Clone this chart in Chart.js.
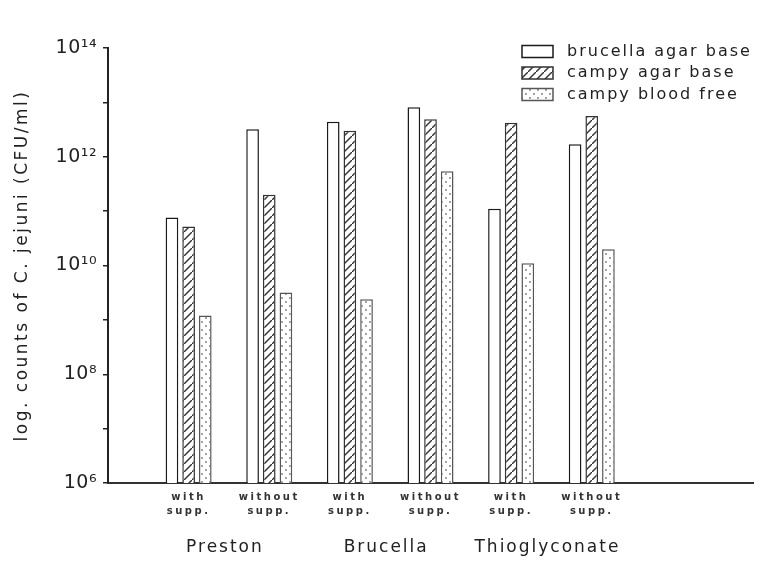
<!DOCTYPE html>
<html>
<head>
<meta charset="utf-8">
<script src="https://cdn.jsdelivr.net/npm/chart.js@4.4.1/dist/chart.umd.min.js"></script>
<style>
  html, body { margin: 0; padding: 0; background: #fff; }
  #wrap { width: 760px; height: 563px; }
</style>
</head>
<body>
<div id="wrap"><canvas id="chart"></canvas></div>
<script>
// Categorias: huecos vacios a los lados como en la figura original
const CATEGORIES = [
  "",
  ["with", "supp."],
  ["without", "supp."],
  ["with", "supp."],
  ["without", "supp."],
  ["with", "supp."],
  ["without", "supp."],
  "",
  "",
];
const GROUPS = ["Preston", "Brucella", "Thioglyconate"];
const SERIES = ["brucella agar base", "campy agar base", "campy blood free"];

// CFU/ml (Preston c/s, Brucella c/s, Thioglyconate c/s)
const BRUCELLA_AGAR = [7.6e10, 3.2e12, 4.4e12, 8.1e12, 1.1e11, 1.7e12];
const CAMPY_AGAR = [5.2e10, 2.0e11, 3.0e12, 4.9e12, 4.2e12, 5.6e12];
const CAMPY_BLOOD_FREE = [1.2e9, 3.2e9, 2.4e9, 5.4e11, 1.1e10, 2.0e10];

const Y_TICKS = [1e6, 1e7, 1e8, 1e9, 1e10, 1e11, 1e12, 1e13, 1e14];
const Y_LABELS = ["10⁶", "", "10⁸", "", "10¹⁰", "", "10¹²", "", "10¹⁴"];

const FONT = "'DejaVu Sans', sans-serif";
const INK = "#222";

function pad(values) {
  return [null, ...values, null, null];
}

// Rellenos tipo trama
function hatchPattern() {
  const c = document.createElement("canvas");
  c.width = 8;
  c.height = 8;
  const g = c.getContext("2d");
  g.fillStyle = "#fff";
  g.fillRect(0, 0, 8, 8);
  g.strokeStyle = "#333";
  g.lineWidth = 1.4;
  g.beginPath();
  g.moveTo(-1, 9);
  g.lineTo(9, -1);
  g.stroke();
  return g.createPattern(c, "repeat");
}

function dotPattern() {
  const c = document.createElement("canvas");
  c.width = 8;
  c.height = 8;
  const g = c.getContext("2d");
  g.fillStyle = "#fff";
  g.fillRect(0, 0, 8, 8);
  g.fillStyle = "#777";
  g.beginPath();
  g.arc(2, 2, 0.9, 0, Math.PI * 2);
  g.arc(6, 6, 0.9, 0, Math.PI * 2);
  g.fill();
  return g.createPattern(c, "repeat");
}

const FILLS = ["#fff", hatchPattern(), dotPattern()];
const BORDERS = ["#1a1a1a", "#333", "#555"];

const textPlugin = {
  id: "textExtras",
  beforeDraw(chart) {
    // titulo del eje y etiquetas de x bien espaciadas
    chart.ctx.letterSpacing = "2.5px";
  },
  afterDatasetsDraw(chart) {
    // las etiquetas del eje y (z: 1) van mas juntas
    chart.ctx.letterSpacing = "0.5px";
  },
  afterDraw(chart) {
    const ctx = chart.ctx;
    const x = chart.scales.x;

    // nombres de los grupos bajo cada par
    ctx.save();
    ctx.letterSpacing = "2px";
    ctx.fillStyle = INK;
    ctx.font = "17px " + FONT;
    ctx.textAlign = "center";
    ctx.textBaseline = "middle";
    GROUPS.forEach((g, i) => {
      const px = (x.getPixelForValue(1 + i * 2) + x.getPixelForValue(2 + i * 2)) / 2;
      ctx.fillText(g, px - 4, 548);
    });

    // leyenda arriba a la derecha
    ctx.font = "16px " + FONT;
    ctx.textAlign = "left";
    chart.data.datasets.forEach((ds, i) => {
      const cy = 51.5 + i * 21.5;
      ctx.fillStyle = ds.backgroundColor;
      ctx.fillRect(522, cy - 6, 31, 12);
      ctx.strokeStyle = ds.borderColor;
      ctx.lineWidth = 1.5;
      ctx.strokeRect(522, cy - 6, 31, 12);
      ctx.fillStyle = INK;
      ctx.fillText(ds.label, 567, cy);
    });
    ctx.restore();
  },
};

new Chart(document.getElementById("chart"), {
  type: "bar",
  data: {
    labels: CATEGORIES,
    datasets: [BRUCELLA_AGAR, CAMPY_AGAR, CAMPY_BLOOD_FREE].map((vals, i) => ({
      label: SERIES[i],
      data: pad(vals),
      backgroundColor: FILLS[i],
      borderColor: BORDERS[i],
      borderWidth: 1.5,
      categoryPercentage: 0.62,
      barPercentage: 0.76,
    })),
  },
  options: {
    responsive: true,
    maintainAspectRatio: false,
    animation: false,
    layout: {
      padding: { top: 48, right: 7, bottom: 0, left: 12 },
    },
    plugins: {
      legend: { display: false },
      tooltip: { enabled: false },
    },
    scales: {
      x: {
        offset: false,
        grid: { drawOnChartArea: false, drawTicks: false },
        border: { color: "#333", width: 2 },
        ticks: {
          color: "#333",
          font: { family: FONT, size: 10, weight: "bold", lineHeight: 1.4 },
          maxRotation: 0,
          autoSkip: false,
          padding: 7,
        },
        afterFit(scale) {
          scale.height = 80;
        },
      },
      y: {
        type: "logarithmic",
        min: 1e6,
        max: 1e14,
        afterBuildTicks(scale) {
          scale.ticks = Y_TICKS.map((v) => ({ value: v }));
        },
        afterFit(scale) {
          scale.width = 96;
        },
        grid: { drawOnChartArea: false, tickLength: 5, color: "#222", lineWidth: 1.5 },
        border: { color: "#222", width: 2 },
        ticks: {
          z: 1,
          color: INK,
          font: { family: FONT, size: 19 },
          padding: 6,
          autoSkip: false,
          callback: (v, i) => Y_LABELS[i],
        },
        title: {
          display: true,
          text: "log. counts of C. jejuni (CFU/ml)",
          color: INK,
          font: { family: FONT, size: 17 },
          padding: { top: 0, bottom: 0 },
        },
      },
    },
  },
  plugins: [textPlugin],
});
</script>
</body>
</html>
